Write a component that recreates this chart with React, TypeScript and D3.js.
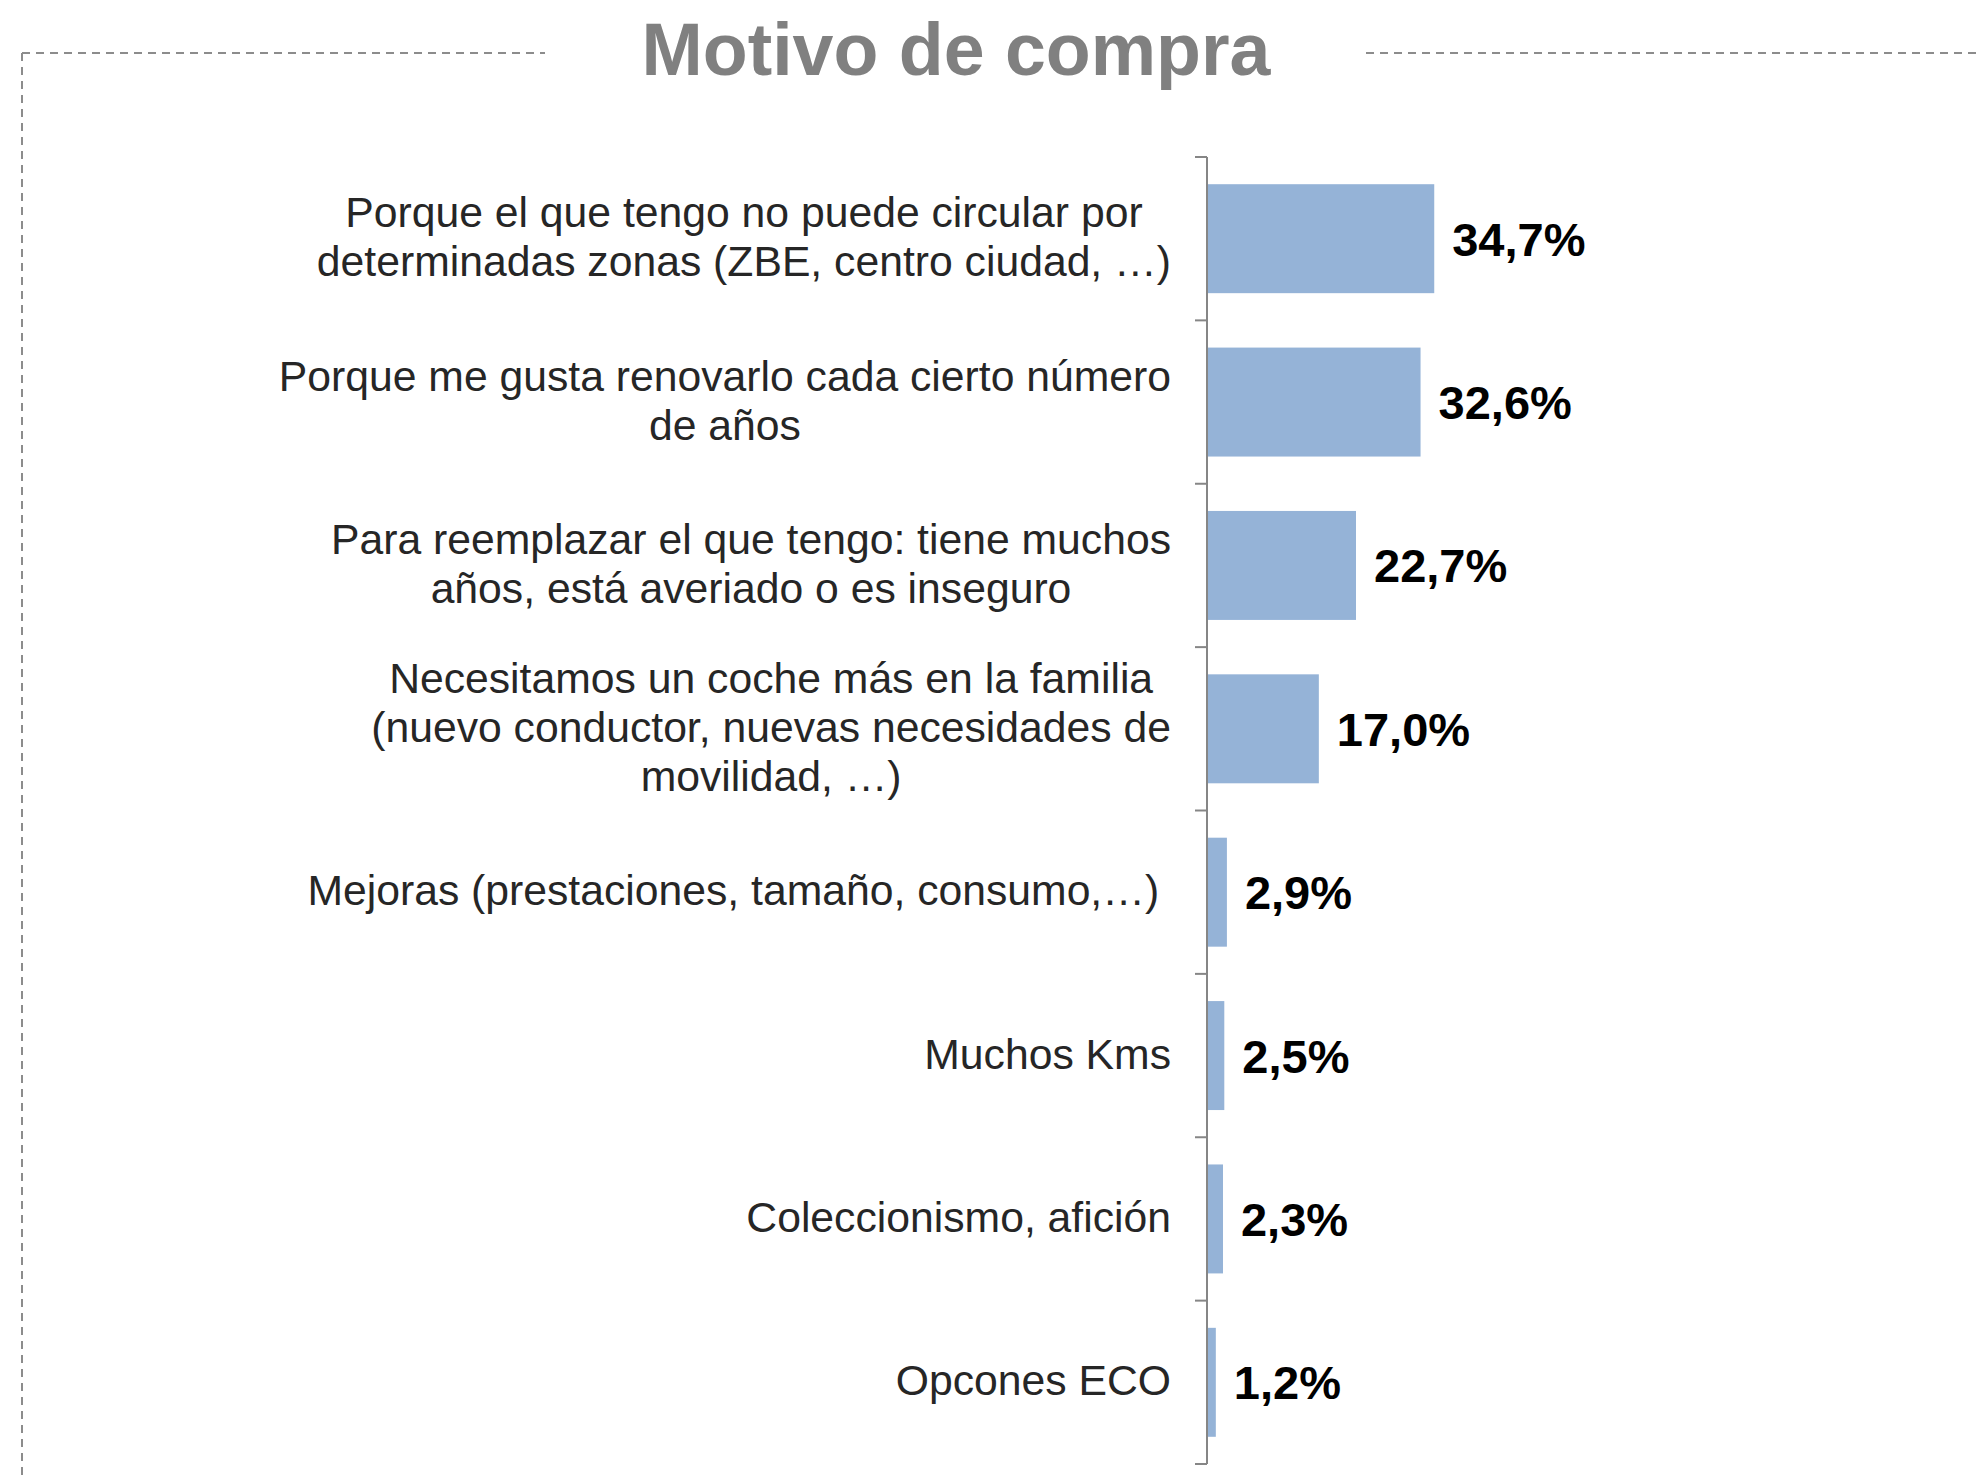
import React, { useEffect, useRef } from "react";
import * as d3 from "d3";

const title = "Motivo de compra";
const categories: string[][] = [
  ["Porque el que tengo no puede circular por", "determinadas zonas (ZBE, centro ciudad, …)"],
  ["Porque me gusta renovarlo cada cierto número", "de años"],
  ["Para reemplazar el que tengo: tiene muchos", "años, está averiado o es inseguro"],
  ["Necesitamos un coche más en la familia", "(nuevo conductor, nuevas necesidades de", "movilidad, …)"],
  ["Mejoras (prestaciones, tamaño, consumo,…) "],
  ["Muchos Kms"],
  ["Coleccionismo, afición"],
  ["Opcones ECO"],
];
const values = [34.7, 32.6, 22.7, 17.0, 2.9, 2.5, 2.3, 1.2];
const valueLabels = ["34,7%", "32,6%", "22,7%", "17,0%", "2,9%", "2,5%", "2,3%", "1,2%"];

const W = 1978;
const H = 1481;

export default function App() {
  const ref = useRef<SVGSVGElement>(null);
  useEffect(() => {
    const svg = d3.select(ref.current);
    svg.selectAll("*").remove();
    const font = "'Liberation Sans', Arial, sans-serif";

    // frame
    const dash = "8,6";
    svg.append("line").attr("x1", 22).attr("y1", 53).attr("x2", 545).attr("y2", 53)
      .attr("stroke", "#8c8c8c").attr("stroke-width", 2).attr("stroke-dasharray", dash);
    svg.append("line").attr("x1", 1366).attr("y1", 53).attr("x2", W).attr("y2", 53)
      .attr("stroke", "#8c8c8c").attr("stroke-width", 2).attr("stroke-dasharray", dash);
    svg.append("line").attr("x1", 22).attr("y1", 53).attr("x2", 22).attr("y2", H)
      .attr("stroke", "#8c8c8c").attr("stroke-width", 2).attr("stroke-dasharray", dash);

    svg.append("text").attr("x", 956).attr("y", 75).attr("text-anchor", "middle")
      .attr("font-family", font).attr("font-weight", "bold").attr("font-size", 73.5)
      .attr("fill", "#808080").text(title);

    const ids = categories.map((_, i) => String(i));
    const y = d3.scaleBand<string>().domain(ids).range([157, 1464]).paddingInner(0.333).paddingOuter(0.1665);
    const x = d3.scaleLinear().domain([0, 100]).range([1208, 1860]);
    const step = y.step();

    // bars
    svg.append("g").selectAll("rect").data(values).join("rect")
      .attr("x", x(0)).attr("y", (_, i) => y(ids[i])!)
      .attr("width", (d) => x(d) - x(0)).attr("height", y.bandwidth())
      .attr("fill", "#95B3D7");

    // axis
    const axisX = 1207;
    svg.append("line").attr("x1", axisX).attr("x2", axisX).attr("y1", 157).attr("y2", 1464)
      .attr("stroke", "#868686").attr("stroke-width", 2);
    const ticks = d3.range(ids.length + 1).map((i) => 157 + i * step);
    svg.append("g").selectAll("line").data(ticks).join("line")
      .attr("x1", 1195).attr("x2", axisX).attr("y1", (d) => d).attr("y2", (d) => d)
      .attr("stroke", "#868686").attr("stroke-width", 2);

    // value labels
    svg.append("g").selectAll("text").data(values).join("text")
      .attr("x", (d) => x(d) + 18)
      .attr("y", (_, i) => y(ids[i])! + y.bandwidth() / 2 + 17)
      .attr("font-family", font).attr("font-weight", "bold").attr("font-size", 47)
      .attr("fill", "#000").text((_, i) => valueLabels[i]);

    // category labels
    const fs = 42.7;
    const lh = 49;
    const rightEdge = 1171;
    const gl = svg.append("g");
    categories.forEach((lines, i) => {
      const cy = y(ids[i])! + y.bandwidth() / 2;
      const n = lines.length;
      const texts = lines.map((ln, j) =>
        gl.append("text")
          .attr("y", cy + (j - (n - 1) / 2) * lh + 13)
          .attr("font-family", font).attr("font-size", fs)
          .attr("fill", "#262626").attr("text-anchor", "middle")
          .style("white-space", "pre")
          .text(ln)
      );
      const widths = texts.map((t) => (t.node() as SVGTextElement).getComputedTextLength());
      const maxW = Math.max(...widths);
      const cx = rightEdge - maxW / 2;
      texts.forEach((t) => t.attr("x", cx));
    });
  }, []);

  return (
    <svg ref={ref} width={W} height={H}
      style={{ position: "absolute", left: 0, top: 0, background: "#fff" }} />
  );
}
